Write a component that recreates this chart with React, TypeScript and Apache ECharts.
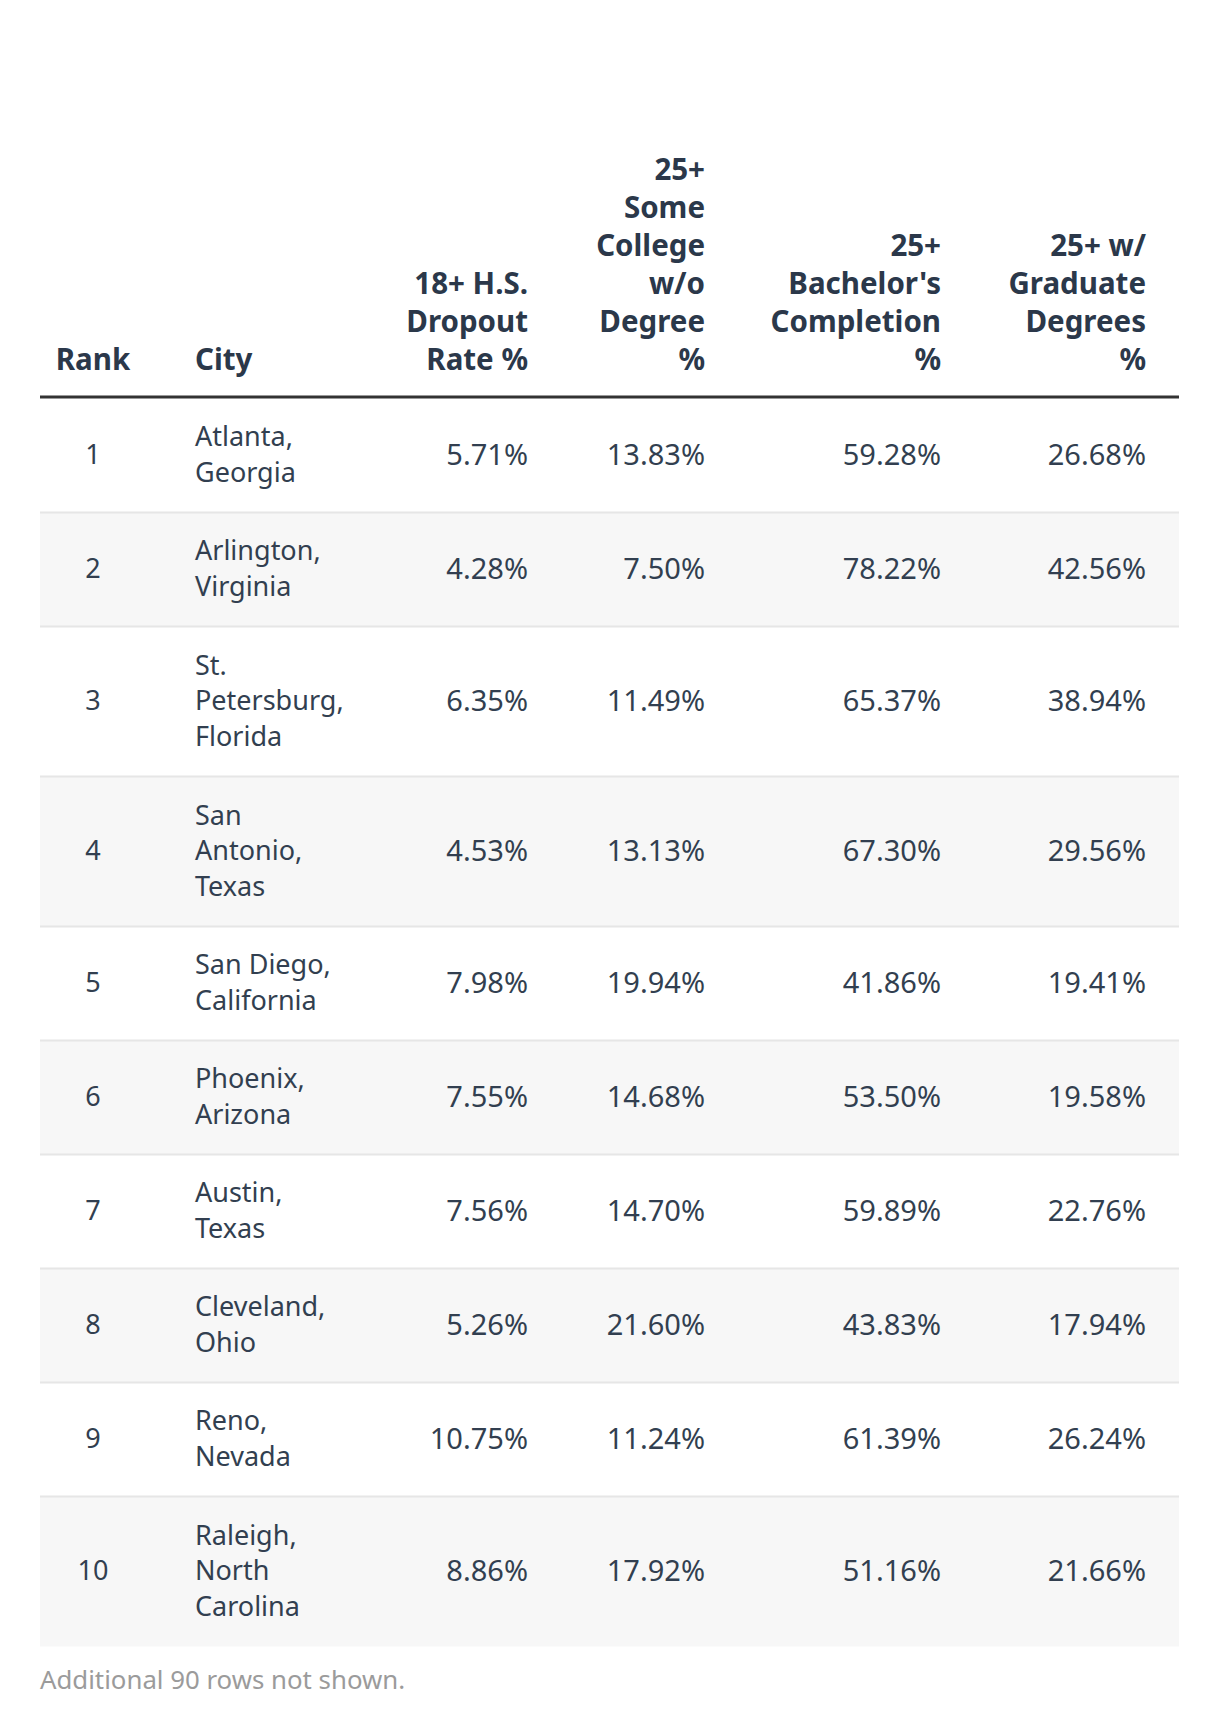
import React, { useEffect, useRef } from "react";
import * as echarts from "echarts";

// ---------- data ----------
const headers = [
  "Rank",
  "City",
  "18+ H.S.\nDropout\nRate %",
  "25+\nSome\nCollege\nw/o\nDegree\n%",
  "25+\nBachelor's\nCompletion\n%",
  "25+ w/\nGraduate\nDegrees\n%",
];
const ranks = [1, 2, 3, 4, 5, 6, 7, 8, 9, 10];
const cityLines = [
  ["Atlanta,", "Georgia"],
  ["Arlington,", "Virginia"],
  ["St.", "Petersburg,", "Florida"],
  ["San", "Antonio,", "Texas"],
  ["San Diego,", "California"],
  ["Phoenix,", "Arizona"],
  ["Austin,", "Texas"],
  ["Cleveland,", "Ohio"],
  ["Reno,", "Nevada"],
  ["Raleigh,", "North", "Carolina"],
];
const dropoutRate = [5.71, 4.28, 6.35, 4.53, 7.98, 7.55, 7.56, 5.26, 10.75, 8.86];
const someCollege = [13.83, 7.5, 11.49, 13.13, 19.94, 14.68, 14.7, 21.6, 11.24, 17.92];
const bachelors = [59.28, 78.22, 65.37, 67.3, 41.86, 53.5, 59.89, 43.83, 61.39, 51.16];
const graduate = [26.68, 42.56, 38.94, 29.56, 19.41, 19.58, 22.76, 17.94, 26.24, 21.66];
const footnote = "Additional 90 rows not shown.";

// ---------- layout / style ----------
const W = 1220;
const H = 1728;
const TABLE_LEFT = 40;
const TABLE_RIGHT = 1179;
const BODY_TOP = 398.5;
const LINE_PX = 36;
const PAD_LINES = 42 / 36; // vertical padding per row, in line units
const FONT = "'Noto Sans', 'DejaVu Sans', sans-serif";
const HEAD_COLOR = "#2b384a";
const BODY_COLOR = "#323f50";
const TEXT_SIZE = 27;
const NUM_SIZE = 29;
const HEAD_SIZE = 29.5;
const TEXT_DY = -2;
// column anchors (x in page px): rank center, city left, numeric right edges
const RANK_X = 93;
const CITY_X = 195;
const NUM_RIGHT = [528, 705, 941, 1146];

const fmt = (v: number) => v.toFixed(2) + "%";

function buildOption() {
  const numericCols = [dropoutRate, someCollege, bachelors, graduate];
  // row extents on the (hidden) y value axis, in line units
  const rows: number[][] = [];
  let acc = 0;
  cityLines.forEach((lines, i) => {
    const size = lines.length + PAD_LINES;
    rows.push([acc, acc + size, i]);
    acc += size;
  });
  const total = acc;
  const n = rows.length;

  const headerGraphics: any[] = headers.map((h, c) => {
    let x = 0;
    let align = "right";
    if (c === 0) {
      x = RANK_X;
      align = "center";
    } else if (c === 1) {
      x = CITY_X;
      align = "left";
    } else {
      x = NUM_RIGHT[c - 2];
    }
    return {
      type: "text",
      x,
      y: 377,
      style: {
        text: h,
        fill: HEAD_COLOR,
        fontFamily: FONT,
        fontSize: HEAD_SIZE,
        fontWeight: "bold",
        lineHeight: 38,
        align,
        verticalAlign: "bottom",
      },
    };
  });

  return {
    animation: false,
    grid: {
      left: TABLE_LEFT,
      width: TABLE_RIGHT - TABLE_LEFT,
      top: BODY_TOP,
      height: total * LINE_PX,
      containLabel: false,
    },
    xAxis: { type: "value", min: 0, max: 1, show: false },
    yAxis: { type: "value", min: 0, max: total, inverse: true, show: false },
    graphic: [
      ...headerGraphics,
      {
        type: "rect",
        shape: { x: TABLE_LEFT, y: 395.5, width: TABLE_RIGHT - TABLE_LEFT, height: 3 },
        style: { fill: "#333333" },
      },
      {
        type: "text",
        x: TABLE_LEFT,
        y: 1679,
        style: {
          text: footnote,
          fill: "#9b9b9b",
          fontFamily: FONT,
          fontSize: 25.8,
          align: "left",
          verticalAlign: "middle",
        },
      },
    ],
    series: [
      {
        type: "custom",
        coordinateSystem: "cartesian2d",
        data: rows,
        encode: { y: [0, 1] },
        renderItem: (params: any, api: any) => {
          const i = api.value(2) as number;
          const y0 = api.coord([0, api.value(0)])[1];
          const y1 = api.coord([0, api.value(1)])[1];
          const cs = params.coordSys;
          const cy = (y0 + y1) / 2 + TEXT_DY;
          const children: any[] = [];
          if (i % 2 === 1) {
            children.push({
              type: "rect",
              shape: { x: cs.x, y: y0, width: cs.width, height: y1 - y0 },
              style: { fill: "#f7f7f7" },
              z2: 0,
            });
          }
          if (i < n - 1) {
            children.push({
              type: "rect",
              shape: { x: cs.x, y: y1 - 1, width: cs.width, height: 2 },
              style: { fill: "#e6e6e6" },
              z2: 20,
            });
          }
          const base = {
            fill: BODY_COLOR,
            fontFamily: FONT,
            fontSize: TEXT_SIZE,
            lineHeight: 35.5,
            verticalAlign: "middle",
          };
          children.push({
            type: "text",
            x: RANK_X,
            y: cy,
            z2: 10,
            style: { ...base, text: String(ranks[i]), align: "center" },
          });
          children.push({
            type: "text",
            x: CITY_X,
            y: cy,
            z2: 10,
            style: { ...base, text: cityLines[i].join("\n"), align: "left" },
          });
          numericCols.forEach((col, c) => {
            children.push({
              type: "text",
              x: NUM_RIGHT[c],
              y: cy,
              z2: 10,
              style: { ...base, fontSize: NUM_SIZE, text: fmt(col[i]), align: "right" },
            });
          });
          return { type: "group", children };
        },
      },
    ],
  };
}

export default function App() {
  const ref = useRef<HTMLDivElement>(null);
  useEffect(() => {
    document.body.style.margin = "0";
    const chart = echarts.init(ref.current as HTMLDivElement, null, { renderer: "svg" });
    chart.setOption(buildOption() as any);
    return () => chart.dispose();
  }, []);
  return <div ref={ref} style={{ width: W, height: H }} />;
}
